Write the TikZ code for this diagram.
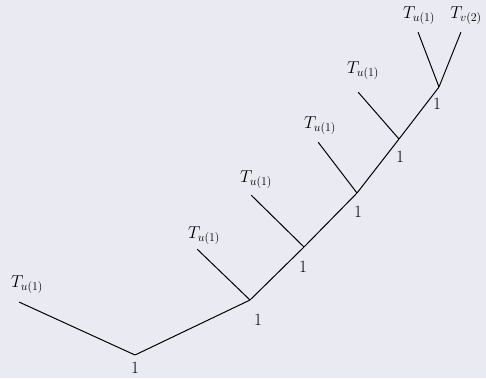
\documentclass[tikz,border=0pt]{standalone}
\usepackage{amsmath}
\usetikzlibrary{positioning}
\definecolor{bgpanel}{HTML}{EAEAF2}

\begin{document}
\begin{tikzpicture}[
        x=1bp, y=-1bp,
        pt/.style={inner sep=0pt, minimum size=0pt},
        lbl/.style={inner sep=1pt, font=\fontsize{17}{20}\selectfont},
        edge/.style={line width=1pt}
    ]
    \fill[bgpanel] (0,0) rectangle (486,378);
    \useasboundingbox (0,0) rectangle (486,378);

    % Knoten der Kette
    \node[pt] (r0) at (135,355) {};
    \node[pt] (r1) at (250,300) {};
    \node[pt] (r2) at (304,247) {};
    \node[pt] (r3) at (357,193) {};
    \node[pt] (r4) at (399,139) {};
    \node[pt] (r5) at (439,87) {};

    % Blaetter
    \node[pt] (l0) at (19,302) {};
    \node[pt] (l1) at (197,249) {};
    \node[pt] (l2) at (251,195) {};
    \node[pt] (l3) at (318,142) {};
    \node[pt] (l4) at (358,92) {};
    \node[pt] (l5) at (418,32) {};
    \node[pt] (l6) at (461,32) {};

    % Kanten
    \draw[edge] (l0) -- (r0) -- (r1) -- (r2) -- (r3) -- (r4) -- (r5);
    \draw[edge] (r1) -- (l1);
    \draw[edge] (r2) -- (l2);
    \draw[edge] (r3) -- (l3);
    \draw[edge] (r4) -- (l4);
    \draw[edge] (r5) -- (l5);
    \draw[edge] (r5) -- (l6);

    % Beschriftungen
    \node[lbl] (t0) at (27,285) {$T_{u(1)}$};
    \node[lbl] (t1) at (204,236) {$T_{u(1)}$};
    \node[lbl] (t2) at (256,180) {$T_{u(1)}$};
    \node[lbl] (t3) at (320,126) {$T_{u(1)}$};
    \node[lbl] (t4) at (363,71) {$T_{u(1)}$};
    \node[lbl] (t5) at (419,16) {$T_{u(1)}$};
    \node[lbl] (t6) at (466,16) {$T_{v(2)}$};

    \node[lbl] (w0) at (135,368) {$1$};
    \node[lbl] (w1) at (258,320) {$1$};
    \node[lbl] (w2) at (303,267) {$1$};
    \node[lbl] (w3) at (358,212) {$1$};
    \node[lbl] (w4) at (400,157) {$1$};
    \node[lbl] (w5) at (437,104) {$1$};

\end{tikzpicture}
\end{document}
